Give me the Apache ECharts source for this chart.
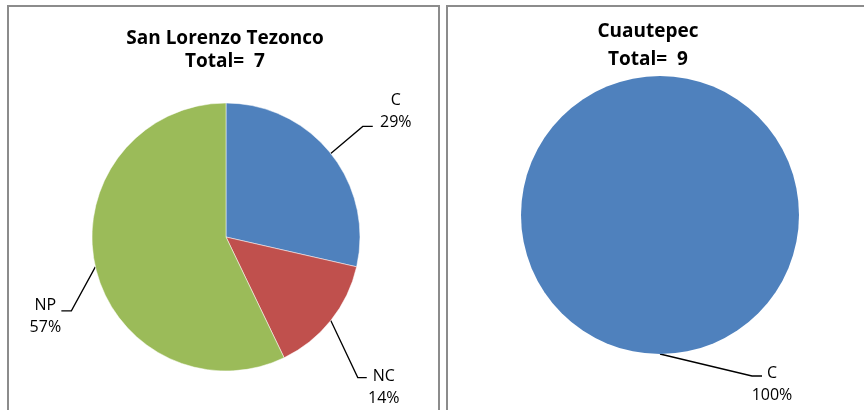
<!DOCTYPE html>
<html>
<head>
<meta charset="utf-8">
<script src="https://cdn.jsdelivr.net/npm/echarts@6/dist/echarts.min.js"></script>
<style>
html, body { margin: 0; padding: 0; background: #fff; }
#chart { width: 864px; height: 410px; }
</style>
</head>
<body>
<div id="chart"></div>
<script>
// datos de las dos graficas
var leftTitle = 'San Lorenzo Tezonco';
var leftCategories = ['C', 'NC', 'NP'];
var leftValues = [2, 1, 4];
var rightTitle = 'Cuautepec';
var rightCategories = ['C'];
var rightValues = [9];
var sliceColors = ['#4F81BD', '#C0504D', '#9BBB59'];

// offsets of each label from its slice edge point: [bendDx, bendDy, endDx, textCx, textTop]
var leftLabelGeo = [[32, -27, 42, 65, -64], [27, 57, 36, 53, 45], [-24, 44, -34, -50, 28]];
var rightLabelGeo = [[92, 22, 102, 112, 8]];

function sum(arr) {
  return arr.reduce(function (s, v) { return s + v; }, 0);
}
function toData(cats, vals) {
  return cats.map(function (c, i) {
    return { name: c, value: vals[i], itemStyle: { color: sliceColors[i] } };
  });
}
function makeLayout(geo) {
  return function (params) {
    var g = geo[params.dataIndex];
    var pts = params.labelLinePoints;
    if (!g || !pts) return {};
    var p0 = pts[0];
    return {
      x: p0[0] + g[3],
      y: p0[1] + g[4],
      align: 'center',
      verticalAlign: 'top',
      labelLinePoints: [
        [p0[0], p0[1]],
        [p0[0] + g[0], p0[1] + g[1]],
        [p0[0] + g[2], p0[1] + g[1]]
      ]
    };
  };
}

var labelStyle = {
  show: true,
  position: 'outside',
  color: '#000',
  fontFamily: 'Open Sans',
  fontSize: 16,
  lineHeight: 22,
  formatter: function (p) {
    return p.name + '\n' + Math.round(p.percent) + '%';
  }
};
var lineStyle = { show: true, lineStyle: { color: '#000', width: 1.3 } };

function titleText(x, y, text) {
  return {
    type: 'text',
    x: x,
    y: y,
    style: {
      text: text,
      align: 'center',
      verticalAlign: 'middle',
      fontFamily: 'Open Sans',
      fontWeight: 'bold',
      fontSize: 19,
      fill: '#000'
    }
  };
}

var myChart = echarts.init(document.getElementById('chart'));
myChart.setOption({
  animation: false,
  graphic: [
    { type: 'rect', shape: { x: 8, y: 6, width: 431, height: 420 }, style: { fill: 'none', stroke: '#8c8c8c', lineWidth: 2 } },
    { type: 'rect', shape: { x: 447, y: 6, width: 440, height: 420 }, style: { fill: 'none', stroke: '#8c8c8c', lineWidth: 2 } },
    titleText(225, 39, leftTitle),
    titleText(225, 62, 'Total=  ' + sum(leftValues)),
    titleText(648, 32, rightTitle),
    titleText(648, 60, 'Total=  ' + sum(rightValues))
  ],
  series: [
    {
      type: 'pie',
      center: [226, 237],
      radius: 134,
      startAngle: 90,
      clockwise: true,
      label: labelStyle,
      labelLine: lineStyle,
      labelLayout: makeLayout(leftLabelGeo),
      itemStyle: { borderColor: '#fff', borderWidth: 0.5 },
      emphasis: { disabled: true },
      data: toData(leftCategories, leftValues)
    },
    {
      type: 'pie',
      center: [660, 215],
      radius: 139,
      startAngle: 90,
      clockwise: true,
      label: labelStyle,
      labelLine: lineStyle,
      labelLayout: makeLayout(rightLabelGeo),
      itemStyle: { borderColor: '#fff', borderWidth: 0 },
      emphasis: { disabled: true },
      data: toData(rightCategories, rightValues)
    }
  ]
});
</script>
</body>
</html>
